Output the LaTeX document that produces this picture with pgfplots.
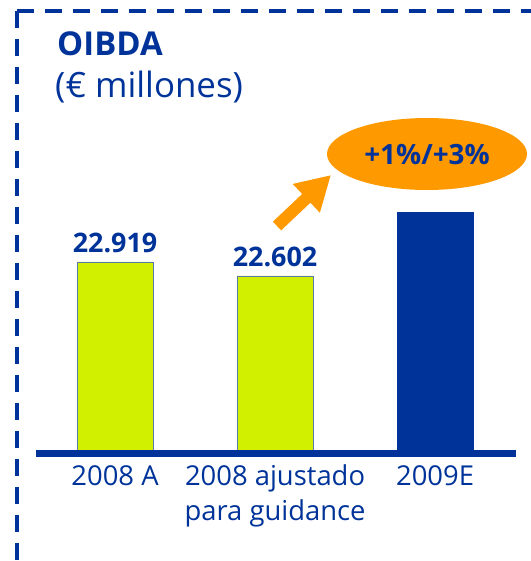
\documentclass[border=0pt]{standalone}
\usepackage{fontspec}
\setmainfont{Open Sans}
\usepackage{pgfplots}
\pgfplotsset{compat=1.18}
\usetikzlibrary{arrows.meta}
\definecolor{tefblue}{HTML}{003399}
\definecolor{limebar}{HTML}{D0F000}
\definecolor{orangeoval}{HTML}{FF9900}
\definecolor{baredge}{HTML}{5A78A8}

\begin{document}
\begin{tikzpicture}
\useasboundingbox (0,0) rectangle (531bp,-561bp);
% dashed frame
\draw[tefblue, line width=3.3bp, dash pattern=on 17bp off 11bp] (17bp,-11bp) -- (17bp,-561bp);
\draw[tefblue, line width=3.3bp, dash pattern=on 17bp off 11bp] (17bp,-11bp) -- (531bp,-11bp);
% title
\node[anchor=base west, inner sep=0pt, text=tefblue, font=\fontsize{33}{36}\selectfont\bfseries] at (57bp,-55bp) {OIBDA};
\node[anchor=base west, inner sep=0pt, text=tefblue, font=\fontsize{35}{40}\selectfont] at (55bp,-97bp) {(€ millones)};

\begin{axis}[
  at={(36bp,-453.5bp)}, anchor=south west, scale only axis,
  width=480bp, height=241.5bp,
  xmin=-0.494, xmax=2.506, ymin=18.583, ymax=24.05,
  axis y line=none, axis x line*=bottom,
  x axis line style={tefblue, line width=7bp, -},
  xtick={0,1,2},
  xticklabels={\rule{0pt}{24bp}2008 A, \rule{0pt}{24bp}2008 ajustado\\para guidance, \rule{0pt}{24bp}2009E},
  major tick length=0pt,
  xticklabel style={anchor=north, yshift=-7.5bp, inner sep=0pt, align=center,
    text=tefblue, font=\fontsize{27.5}{35}\selectfont},
  ybar, bar width=76bp, bar shift=0pt,
  clip=false, axis on top,
  point meta=explicit symbolic,
]
\addplot[fill=limebar, draw=baredge, line width=0.8bp,
  nodes near coords,
  every node near coord/.append style={inner sep=0pt, yshift=9bp, text=tefblue,
    font=\fontsize{27}{30}\selectfont\bfseries}]
  coordinates {(0,22.919) [22.919] (1,22.602) [22.602]};
\addplot[fill=tefblue, draw=tefblue, line width=0.8bp]
  coordinates {(2,24.05) []};
\end{axis}

% annotation
\draw[orangeoval, line width=12bp, -{Triangle[length=34bp,width=37bp]}] (277bp,-226bp) -- (331bp,-175bp);
\fill[orangeoval] (427bp,-154bp) ellipse [x radius=100bp, y radius=36bp];
\node[text=tefblue, font=\fontsize{28}{30}\selectfont\bfseries] at (427bp,-155bp) {+1\%/+3\%};
\end{tikzpicture}
\end{document}
